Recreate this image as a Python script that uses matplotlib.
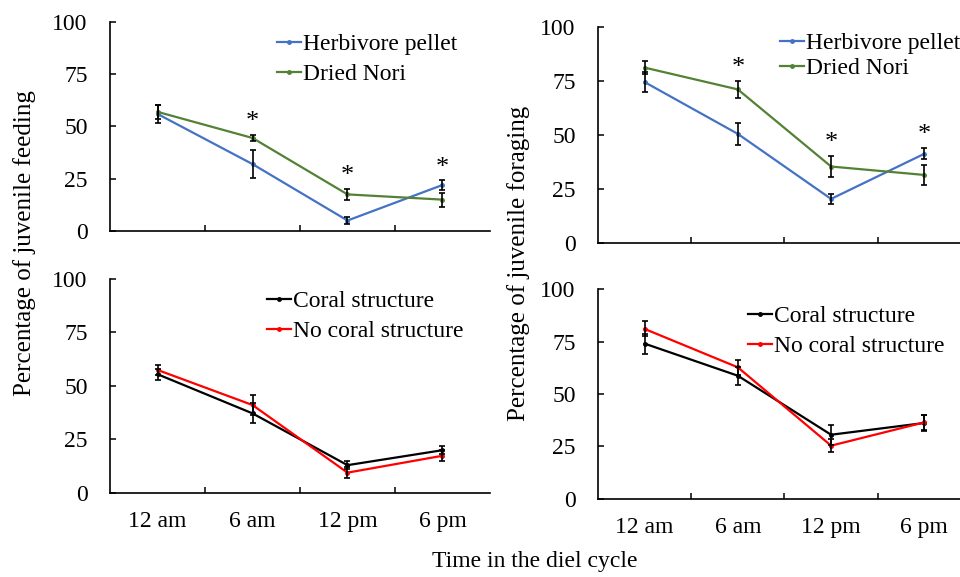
import matplotlib
matplotlib.use("Agg")
import matplotlib.pyplot as plt
import numpy as np

plt.rcParams["font.family"] = ["Liberation Serif", "DejaVu Serif"]

times = ["12 am", "6 am", "12 pm", "6 pm"]

# feeding, diet
feed_pellet = [56, 32, 5, 22]
feed_pellet_err = [4.5, 6.6, 1.6, 2.2]
feed_nori = [57, 44.5, 17.5, 15]
feed_nori_err = [3.5, 1.6, 2.6, 3.4]
feed_diet_sig = [False, True, True, True]

# foraging, diet
forage_pellet = [74.5, 50.5, 20.4, 41.3]
forage_pellet_err = [4.5, 5.0, 2.3, 2.6]
forage_nori = [81.2, 71.1, 35.4, 31.5]
forage_nori_err = [3.0, 3.8, 4.8, 4.6]
forage_diet_sig = [False, True, True, True]

# feeding, habitat
feed_coral = [55.5, 37.2, 13, 20]
feed_coral_err = [2.5, 4.7, 2.0, 2.0]
feed_nocoral = [57.5, 41.1, 9.5, 17.4]
feed_nocoral_err = [2.3, 4.5, 2.5, 2.5]

# foraging, habitat
forage_coral = [74, 58.7, 30.6, 36.2]
forage_coral_err = [4.8, 4.3, 4.7, 3.8]
forage_nocoral = [81, 62.7, 25.4, 36.5]
forage_nocoral_err = [3.6, 3.6, 3.2, 3.5]

BLUE = "#4472C4"
GREEN = "#538135"
RED = "#FF0000"
BLACK = "#000000"
FS = 17


def style_axis(ax, show_xlabels):
    x = np.arange(1, len(times) + 1)
    ax.set_xlim(0.5, len(times) + 0.5)
    ax.set_ylim(0, 100)
    ax.set_yticks([0, 25, 50, 75, 100])
    ax.set_xticks(x)
    ax.set_xticks(x[:-1] + 0.5, minor=True)
    ax.tick_params(axis="x", which="major", length=0, labelsize=FS, pad=13)
    ax.tick_params(axis="x", which="minor", direction="in", length=4, width=1.1)
    ax.tick_params(axis="y", direction="in", length=4, width=1.1, labelsize=FS, pad=16)
    if show_xlabels:
        ax.set_xticklabels(times)
    else:
        ax.set_xticklabels([])
    for s in ("top", "right"):
        ax.spines[s].set_visible(False)
    for s in ("left", "bottom"):
        ax.spines[s].set_linewidth(1.2)


def draw_pair(ax, a, a_err, b, b_err, ca, cb, la, lb):
    x = np.arange(1, len(times) + 1)
    for vals, errs, c, lab in ((a, a_err, ca, la), (b, b_err, cb, lb)):
        ax.plot(x, vals, "-o", color=c, lw=1.6, ms=2.5, label=lab, zorder=3)
        ax.errorbar(x, vals, yerr=errs, fmt="none", ecolor="black",
                    elinewidth=1.2, capsize=2.5, capthick=1.2, zorder=4)


def add_stars(ax, a, a_err, b, b_err, sig):
    for i, s in enumerate(sig):
        if s:
            top = max(a[i] + a_err[i], b[i] + b_err[i])
            ax.text(i + 1, top + 6, "*", ha="center", va="center", fontsize=FS + 2)


fig = plt.figure(figsize=(9.6, 5.77), dpi=100)
ax_tl = fig.add_axes([0.1146, 0.5997, 0.3958, 0.3622])
ax_tr = fig.add_axes([0.6229, 0.5789, 0.3885, 0.3743])
ax_bl = fig.add_axes([0.1146, 0.1456, 0.3958, 0.3709])
ax_br = fig.add_axes([0.6229, 0.1352, 0.3885, 0.3639])

draw_pair(ax_tl, feed_pellet, feed_pellet_err, feed_nori, feed_nori_err,
          BLUE, GREEN, "Herbivore pellet", "Dried Nori")
add_stars(ax_tl, feed_pellet, feed_pellet_err, feed_nori, feed_nori_err, feed_diet_sig)
draw_pair(ax_tr, forage_pellet, forage_pellet_err, forage_nori, forage_nori_err,
          BLUE, GREEN, "Herbivore pellet", "Dried Nori")
add_stars(ax_tr, forage_pellet, forage_pellet_err, forage_nori, forage_nori_err, forage_diet_sig)
draw_pair(ax_bl, feed_coral, feed_coral_err, feed_nocoral, feed_nocoral_err,
          BLACK, RED, "Coral structure", "No coral structure")
draw_pair(ax_br, forage_coral, forage_coral_err, forage_nocoral, forage_nocoral_err,
          BLACK, RED, "Coral structure", "No coral structure")

style_axis(ax_tl, False)
style_axis(ax_tr, False)
style_axis(ax_bl, True)
style_axis(ax_br, True)

leg_kw = dict(loc="upper left", frameon=False, fontsize=FS, handlelength=1.0,
              handletextpad=0.1, borderpad=0, borderaxespad=0, labelspacing=0.36)
ax_tl.legend(bbox_to_anchor=(277 / 960, 1 - 33.5 / 577),
             bbox_transform=fig.transFigure, **leg_kw)
ax_tr.legend(bbox_to_anchor=(780 / 960, 1 - 32.5 / 577),
             bbox_transform=fig.transFigure, **{**leg_kw, "labelspacing": 0.15})
ax_bl.legend(bbox_to_anchor=(267 / 960, 1 - 290.5 / 577),
             bbox_transform=fig.transFigure, **leg_kw)
ax_br.legend(bbox_to_anchor=(748 / 960, 1 - 305.5 / 577),
             bbox_transform=fig.transFigure, **leg_kw)

fig.text(25 / 960, 1 - 243 / 577, "Percentage of juvenile feeding",
         rotation=90, ha="center", va="center", fontsize=18)
fig.text(519 / 960, 1 - 263 / 577, "Percentage of juvenile foraging",
         rotation=90, ha="center", va="center", fontsize=18)
fig.text(535 / 960, 1 - 562 / 577, "Time in the diel cycle",
         ha="center", va="center", fontsize=FS)

fig.savefig("out.png", dpi=100)
